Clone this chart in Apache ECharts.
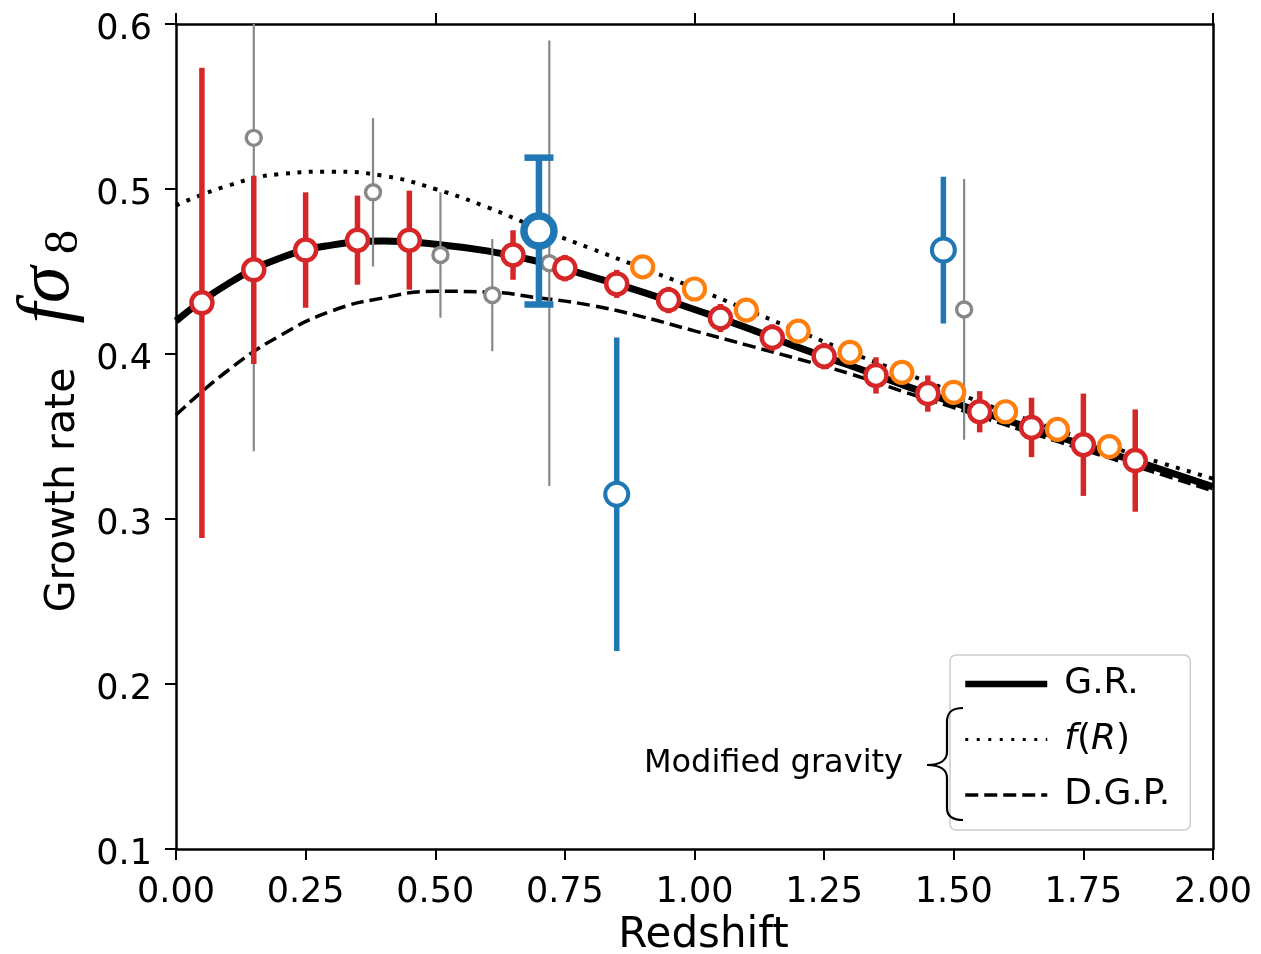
<!DOCTYPE html>
<html>
<head>
<meta charset="utf-8">
<script src="https://cdn.jsdelivr.net/npm/echarts@6/dist/echarts.min.js"></script>
<style>
html,body{margin:0;padding:0;background:#fff;}
#chart{width:1261px;height:954px;}
</style>
</head>
<body>
<div id="chart"></div>
<script>
// ---- theory curves (redshift grid) ----
const curveZ = [0,0.1,0.2,0.3,0.4,0.5,0.6,0.7,0.8,0.9,1.0,1.1,1.2,1.3,1.4,1.5,1.6,1.7,1.8,1.9,2.0];
const grCurve = [0.420,0.4425,0.458,0.466,0.4685,0.4665,0.4625,0.456,0.447,0.4375,0.427,0.416,0.404,0.393,0.3815,0.3705,0.360,0.350,0.340,0.330,0.3195];
const fRCurve = [0.490,0.502,0.509,0.5105,0.508,0.500,0.489,0.476,0.464,0.452,0.440,0.427,0.414,0.401,0.389,0.377,0.365,0.354,0.344,0.334,0.3245];
const dgpCurve = [0.363,0.390,0.411,0.426,0.434,0.438,0.4375,0.434,0.4295,0.4225,0.414,0.4055,0.397,0.388,0.3775,0.3675,0.357,0.347,0.337,0.327,0.317];

// ---- red forecast points ----
const redZ = [0.05,0.15,0.25,0.35,0.45,0.65,0.75,0.85,0.95,1.05,1.15,1.25,1.35,1.45,1.55,1.65,1.75,1.85];
const redV = [0.431,0.451,0.463,0.469,0.469,0.460,0.452,0.4425,0.4327,0.4218,0.410,0.3987,0.387,0.376,0.365,0.3555,0.345,0.3354];
const redErr = [0.1425,0.057,0.035,0.027,0.030,0.015,0.008,0.0085,0.008,0.0085,0.008,0.008,0.011,0.011,0.0125,0.018,0.031,0.031];

// ---- orange points ----
const orangeZ = [0.9,1.0,1.1,1.2,1.3,1.4,1.5,1.6,1.7,1.8];
const orangeV = [0.4528,0.4394,0.4266,0.4139,0.401,0.3889,0.3768,0.365,0.3543,0.3439];

// ---- grey measurements ----
const greyZ = [0.15,0.38,0.51,0.61,0.72,1.52];
const greyV = [0.531,0.498,0.460,0.4357,0.455,0.427];
const greyErr = [0.19,0.045,0.038,0.034,0.135,0.079];

// ---- blue measurements ----
const blueZ = [0.85,1.48];
const blueV = [0.315,0.463];
const blueErr = [0.095,0.0445];
const blueBigZ = [0.70];
const blueBigV = [0.4745];
const blueBigErr = [0.0445];

// ---- ticks ----
const xTicks = {min:0, max:2, interval:0.25};
const xTopTicks = {min:0, max:2, interval:0.5};
const yTicks = {min:0.1, max:0.6, interval:0.1};

const RED = '#d62728', ORANGE = '#ff7f0e', GREY = '#888888', BLUE = '#1f77b4';

function zip3(a,b,c){ return a.map((v,i)=>[v,b[i],c[i]]); }
function zip2(a,b){ return a.map((v,i)=>[v,b[i]]); }

function errSeries(z, v, e, color, width, capW, zlev){
  return {
    type:'custom', clip:true, silent:true, z:zlev,
    data: zip3(z,v,e),
    encode:{x:0,y:1},
    renderItem: function(params, api){
      const x = api.value(0), y = api.value(1), er = api.value(2);
      const t = api.coord([x, y+er]);
      const b = api.coord([x, y-er]);
      const ch = [{type:'line', shape:{x1:t[0],y1:t[1],x2:b[0],y2:b[1]}, style:{stroke:color, lineWidth:width}}];
      if(capW){
        ch.push({type:'line', shape:{x1:t[0]-capW/2,y1:t[1],x2:t[0]+capW/2,y2:t[1]}, style:{stroke:color, lineWidth:width}});
        ch.push({type:'line', shape:{x1:b[0]-capW/2,y1:b[1],x2:b[0]+capW/2,y2:b[1]}, style:{stroke:color, lineWidth:width}});
      }
      return {type:'group', children:ch};
    }
  };
}
function markerSeries(z, v, color, size, bw, zlev){
  return {
    type:'scatter', silent:true, z:zlev,
    data: zip2(z,v), symbol:'circle', symbolSize:size,
    itemStyle:{color:'#ffffff', borderColor:color, borderWidth:bw, opacity:1}
  };
}

const chart = echarts.init(document.getElementById('chart'), null, {renderer:'canvas'});
const FONT = 'DejaVu Sans';
const axisLineStyle = {color:'#000', width:2.5};
const braceStyle = {fill:'none', stroke:'#000', lineWidth:2.2};

const option = {
  animation:false,
  backgroundColor:'#fff',
  grid:{left:176, right:48, top:24, bottom:105, containLabel:false, outerBoundsMode:'none'},
  xAxis:[{
    type:'value', min:xTicks.min, max:xTicks.max, interval:xTicks.interval,
    position:'bottom',
    axisLine:{show:true, onZero:false, lineStyle:axisLineStyle},
    axisTick:{show:true, inside:false, length:11, lineStyle:{color:'#000', width:2}},
    axisLabel:{show:true, margin:26, color:'#000', fontFamily:FONT, fontSize:35, formatter:v=>v.toFixed(2)},
    splitLine:{show:false},
    name:'Redshift', nameLocation:'middle', nameGap:66,
    nameTextStyle:{fontFamily:FONT, fontSize:42, color:'#000', padding:[0,0,0,18]}
  },{
    type:'value', min:xTopTicks.min, max:xTopTicks.max, interval:xTopTicks.interval,
    position:'top',
    axisLine:{show:true, onZero:false, lineStyle:axisLineStyle},
    axisTick:{show:true, inside:false, length:11, lineStyle:{color:'#000', width:2}},
    axisLabel:{show:false}, splitLine:{show:false}
  }],
  yAxis:[{
    type:'value', min:yTicks.min, max:yTicks.max, interval:yTicks.interval,
    position:'left',
    axisLine:{show:true, onZero:false, lineStyle:axisLineStyle},
    axisTick:{show:true, inside:false, length:11, lineStyle:{color:'#000', width:2}},
    axisLabel:{show:true, margin:24, color:'#000', fontFamily:FONT, fontSize:35,
      formatter:v=>'{t|' + v.toFixed(1) + '}',
      rich:{t:{fontFamily:FONT, fontSize:35, color:'#000', padding:[12,0,0,0]}}},
    splitLine:{show:false}
  },{
    type:'value', min:yTicks.min, max:yTicks.max, interval:yTicks.interval,
    position:'right',
    axisLine:{show:true, onZero:false, lineStyle:axisLineStyle},
    axisTick:{show:false}, axisLabel:{show:false}, splitLine:{show:false}
  }],
  legend:{
    show:true, orient:'vertical', left:950, top:655,
    padding:[9,20,15,12], itemWidth:82, itemHeight:20, itemGap:15.5,
    borderColor:'#cccccc', borderWidth:1.5, borderRadius:6,
    backgroundColor:'rgba(255,255,255,0.85)', selectedMode:false,
    itemStyle:{color:'rgba(0,0,0,0)', borderWidth:0, opacity:0},
    data:[
      {name:'G.R.', lineStyle:{width:6.5, type:'solid'}},
      {name:'f(R)', lineStyle:{width:3, type:[3,8.5]}},
      {name:'D.G.P.', lineStyle:{width:3.5, type:[13,6]}}
    ],
    formatter: n => n==='f(R)' ? '{i|f}({i|R})' : n,
    textStyle:{fontFamily:FONT, fontSize:36, color:'#000', lineHeight:40, padding:[0,0,0,12],
      rich:{i:{fontFamily:FONT, fontStyle:'italic', fontSize:36, color:'#000', lineHeight:40}}}
  },
  graphic:[
    {type:'text', x:63, y:490, rotation:Math.PI/2, silent:true,
      style:{text:'Growth rate', font:'41px "DejaVu Sans"', fill:'#000', align:'center', verticalAlign:'middle'}},
    {type:'text', x:49, y:295, rotation:Math.PI/2, silent:true,
      style:{text:'fσ', font:'italic 74px "Liberation Serif"', fill:'#000', align:'center', verticalAlign:'middle'}},
    {type:'text', x:64, y:242, rotation:Math.PI/2, silent:true,
      style:{text:'8', font:'48px "Liberation Serif"', fill:'#000', align:'center', verticalAlign:'middle'}},
    {type:'text', x:903, y:764, silent:true, z:100,
      style:{text:'Modified gravity', font:'32px "DejaVu Sans"', fill:'#000', align:'right', verticalAlign:'middle'}},
    {type:'bezierCurve', silent:true, z:100, shape:{x1:963,y1:708,cpx1:952,cpy1:708,cpx2:947,cpy2:712,x2:947,y2:722}, style:braceStyle},
    {type:'line', silent:true, z:100, shape:{x1:947,y1:722,x2:947,y2:752}, style:braceStyle},
    {type:'bezierCurve', silent:true, z:100, shape:{x1:947,y1:752,cpx1:947,cpy1:760,cpx2:940,cpy2:765,x2:927,y2:765}, style:braceStyle},
    {type:'bezierCurve', silent:true, z:100, shape:{x1:927,y1:765,cpx1:940,cpy1:765,cpx2:947,cpy2:770,x2:947,y2:778}, style:braceStyle},
    {type:'line', silent:true, z:100, shape:{x1:947,y1:778,x2:947,y2:808}, style:braceStyle},
    {type:'bezierCurve', silent:true, z:100, shape:{x1:947,y1:808,cpx1:947,cpy1:816,cpx2:952,cpy2:820,x2:963,y2:820}, style:braceStyle}
  ],
  series:[
    {name:'D.G.P.', type:'line', data:zip2(curveZ,dgpCurve), smooth:true, showSymbol:false, symbol:'none', z:2,
      lineStyle:{color:'#000', width:3.5, type:[13,6]}, itemStyle:{color:'#000'}},
    {name:'f(R)', type:'line', data:zip2(curveZ,fRCurve), smooth:true, showSymbol:false, symbol:'none', z:2,
      lineStyle:{color:'#000', width:4, type:[4,7.5]}, itemStyle:{color:'#000'}},
    {name:'G.R.', type:'line', data:zip2(curveZ,grCurve), smooth:true, showSymbol:false, symbol:'none', z:3,
      lineStyle:{color:'#000', width:7}, itemStyle:{color:'#000'}},
    errSeries(greyZ, greyV, greyErr, GREY, 2.2, 0, 4),
    markerSeries(greyZ, greyV, GREY, 15, 3.4, 5),
    errSeries(blueZ, blueV, blueErr, BLUE, 5.5, 0, 6),
    markerSeries(blueZ, blueV, BLUE, 23, 4, 7),
    errSeries(blueBigZ, blueBigV, blueBigErr, BLUE, 6.5, 29, 6),
    markerSeries(blueBigZ, blueBigV, BLUE, 30, 7.5, 7),
    errSeries(redZ, redV, redErr, RED, 5.5, 0, 8),
    markerSeries(redZ, redV, RED, 21, 4.5, 9),
    markerSeries(orangeZ, orangeV, ORANGE, 21, 4.2, 10)
  ]
};
chart.setOption(option);
</script>
</body>
</html>
